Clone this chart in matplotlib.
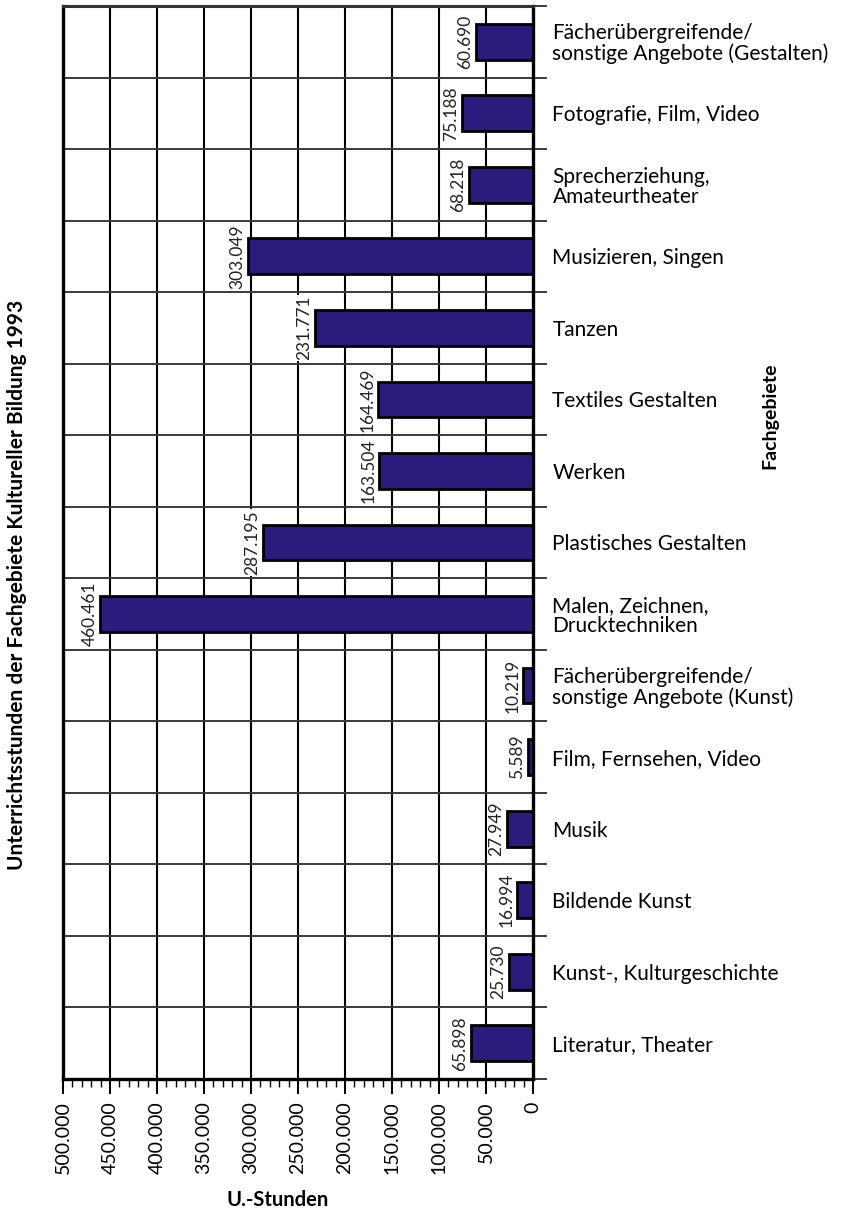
import numpy as np
import matplotlib.pyplot as plt

plt.rcParams['font.family'] = ['Lato', 'DejaVu Sans']

# Fachgebiete von unten nach oben
categories = [
    'Literatur, Theater',
    'Kunst-, Kulturgeschichte',
    'Bildende Kunst',
    'Musik',
    'Film, Fernsehen, Video',
    'Fächerübergreifende/\nsonstige Angebote (Kunst)',
    'Malen, Zeichnen,\nDrucktechniken',
    'Plastisches Gestalten',
    'Werken',
    'Textiles Gestalten',
    'Tanzen',
    'Musizieren, Singen',
    'Sprecherziehung,\nAmateurtheater',
    'Fotografie, Film, Video',
    'Fächerübergreifende/\nsonstige Angebote (Gestalten)',
]
stunden = [65898, 25730, 16994, 27949, 5589, 10219, 460461, 287195,
           163504, 164469, 231771, 303049, 68218, 75188, 60690]
xticks = [0, 50000, 100000, 150000, 200000, 250000, 300000, 350000, 400000, 450000, 500000]

def de(v):
    return f'{v:,}'.replace(',', '.')

fig = plt.figure(figsize=(8.46, 12.13), dpi=100)
ax = fig.add_axes([63 / 846, 1 - 1079 / 1213, 470 / 846, 1073 / 1213])

y = np.arange(len(categories))
ax.barh(y, stunden, height=0.5, color='#2d1a7d', edgecolor='black', linewidth=2, zorder=3)

ax.set_xlim(500000, 0)
ax.set_ylim(-0.5, len(categories) - 0.5)

# grid: vertical lines every 50.000, horizontal lines between categories
for x in xticks[1:-1]:
    ax.axvline(x, color='black', linewidth=1.5, zorder=1)
for b in np.arange(-0.5, len(categories), 1.0)[1:-1]:
    ax.axhline(b, color='#3a3a3a', linewidth=1.4, zorder=1)

for i, v in enumerate(stunden):
    ax.text(v + 3000, i, de(v), rotation=90, ha='right', va='center',
            fontsize=12.5, color='#222222', zorder=4,
            bbox=dict(facecolor='white', edgecolor='none', pad=0.5))

ax.set_xticks(xticks)
ax.set_xticklabels([de(t) for t in xticks], rotation=90, fontsize=14)
ax.set_xticks(np.arange(0, 500001, 10000), minor=True)
ax.tick_params(axis='x', which='major', length=11, width=1.4, direction='out', pad=5)
ax.tick_params(axis='x', which='minor', length=6, width=1, direction='out')

ax.yaxis.tick_right()
ax.set_yticks(y)
ax.set_yticklabels(categories, fontsize=15, linespacing=1.0)
ax.set_yticks(np.arange(-0.5, len(categories), 1.0), minor=True)
ax.tick_params(axis='y', which='major', length=0, pad=14)
ax.tick_params(axis='y', which='minor', length=10, width=1.4, color='#3a3a3a', direction='out')

for side in ['left', 'bottom', 'right']:
    ax.spines[side].set_linewidth(2.4)
ax.spines['top'].set_linewidth(2.2)
ax.spines['top'].set_color('#333333')

fig.text(278 / 846, 1 - 1200 / 1213, 'U.-Stunden', ha='center', va='center',
         fontsize=14.5, fontweight='bold')
fig.text(17 / 846, 1 - 585 / 1213, 'Unterrichtsstunden der Fachgebiete Kultureller Bildung 1993',
         rotation=90, ha='center', va='center', fontsize=15, fontweight='bold')
fig.text(770 / 846, 1 - 416 / 1213, 'Fachgebiete', rotation=90, ha='center', va='center',
         fontsize=14, fontweight='bold')

fig.savefig('out.png', dpi=100)
